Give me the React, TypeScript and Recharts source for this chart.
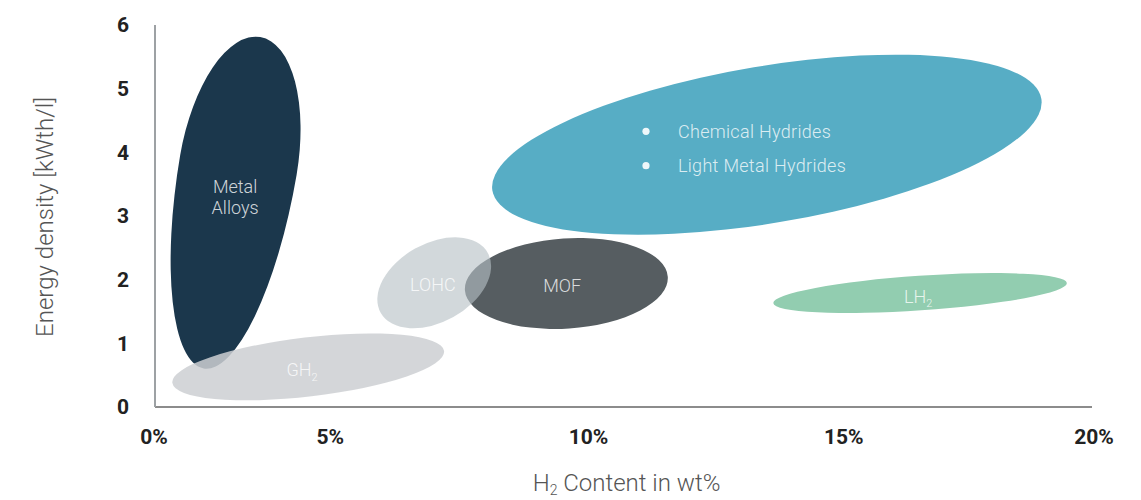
import React from 'react';
import { ComposedChart, XAxis, YAxis, Scatter, ReferenceArea } from 'recharts';

// Axis ticks
const xTicks = [0, 5, 10, 15, 20];
const yTicks = [0, 1, 2, 3, 4, 5, 6];

// Storage-technology regions (drawing order = stacking order)
const blobNames = ['Metal Alloys', 'GH2', 'MOF', 'LOHC', 'Chemical Hydrides', 'LH2'];
// centre of region (H2 wt%, kWh/l)
const blobCx = [1.78, 3.27, 8.78, 5.96, 13.06, 16.33];
const blobCy = [3.8, 0.63, 1.94, 1.95, 4.12, 1.79];
// half width (wt%) and reach above / below centre (kWh/l), before tilt
const blobHalfW = [1.26, 2.92, 2.17, 1.31, 5.94, 3.14];
const blobUp = [2.04, 0.465, 0.708, 0.616, 1.233, 0.272];
const blobDown = [3.24, 0.465, 0.708, 0.616, 1.233, 0.272];
const blobTilt = [9.7, -6.7, -3.8, -29.2, -9.5, -3.9];

// Labels
const labelLines = [['Metal', 'Alloys'], ['GH'], ['LOHC'], ['MOF'], ['LH'], ['Chemical Hydrides'], ['Light Metal Hydrides']];
const labelSubs = ['', '2', '', '', '2', '', ''];
const labelBullet = [false, false, false, false, false, true, true];
const labelX = [1.71, 3.14, 5.93, 8.69, 16.29, 10.48, 10.48];
const labelY = [3.3, 0.58, 1.92, 1.9, 1.74, 4.33, 3.79];

// styles
const blobFill: Record<string, string> = {
  'Metal Alloys': '#1b374c',
  GH2: '#cdcfd2',
  MOF: '#565d61',
  LOHC: '#b7c0c5',
  'Chemical Hydrides': '#57adc5',
  LH2: '#92cdb0',
};
const blobOpacity: Record<string, number> = {
  'Metal Alloys': 1,
  GH2: 0.85,
  MOF: 1,
  LOHC: 0.62,
  'Chemical Hydrides': 1,
  LH2: 1,
};
const xLabelNudge = [-1, -59, -35, -14, 2];

const FONT = 'Roboto, "Open Sans", sans-serif';

const labelData = labelX.map((x, i) => ({ x, y: labelY[i], i }));

function Blob(props: any) {
  const { x, y, width, height, up, down, angle, fill, opacity } = props;
  if (x == null || width == null) return null;
  const rx = Math.abs(width) / 2;
  const cx = x + width / 2;
  const h = Math.abs(height);
  const top = Math.min(y, y + height);
  const upPx = (h * up) / (up + down);
  const downPx = h - upPx;
  const cy = top + upPx;
  const d = `M ${cx - rx} ${cy} A ${rx} ${upPx} 0 0 1 ${cx + rx} ${cy} A ${rx} ${downPx} 0 0 1 ${cx - rx} ${cy} Z`;
  return <path d={d} fill={fill} fillOpacity={opacity} stroke="none" transform={`rotate(${angle} ${cx} ${cy})`} />;
}

function LabelShape(props: any) {
  const { cx, cy, payload } = props;
  if (cx == null || cy == null) return null;
  const i = payload.i;
  const lines = labelLines[i];
  const sub = labelSubs[i];
  const bullet = labelBullet[i];
  const fs = 18;
  const lh = 21;
  if (bullet) {
    return (
      <g>
        <circle cx={cx} cy={cy} r={3.6} fill="#ffffff" fillOpacity={0.9} />
        <text x={cx + 32} y={cy} dy="0.35em" textAnchor="start" fontFamily={FONT} fontWeight={300} fontSize={fs} fill="#ffffff" fillOpacity={0.8} letterSpacing={0.3}>
          {lines[0]}
        </text>
      </g>
    );
  }
  const n = lines.length;
  return (
    <text textAnchor="middle" fontFamily={FONT} fontWeight={300} fontSize={fs} fill="#ffffff" fillOpacity={0.8}>
      {lines.map((ln, k) => (
        <tspan key={k} x={cx} y={cy + (k - (n - 1) / 2) * lh} dy="0.35em">
          {ln}
        </tspan>
      ))}
      {sub ? (
        <tspan fontSize={11} dy="0.45em">
          {sub}
        </tspan>
      ) : null}
    </text>
  );
}

function XTick(props: any) {
  const { x, y, payload } = props;
  const idx = xTicks.indexOf(payload.value);
  const nudge = idx >= 0 ? xLabelNudge[idx] : 0;
  return (
    <text x={x + nudge} y={y} dy="0.71em" textAnchor="middle" fontFamily={FONT} fontWeight={700} fontSize={21} fill="#222">
      {payload.value}%
    </text>
  );
}

function XTitle(props: any) {
  const vb = props.viewBox || { x: 155, y: 407, width: 937, height: 93 };
  return (
    <text x={vb.x + vb.width / 2 + 3} y={491} textAnchor="middle" fontFamily={FONT} fontWeight={300} fontSize={24} fill="#555">
      <tspan>H</tspan>
      <tspan fontSize={14} dy="4">2</tspan>
      <tspan dy="-4"> Content in wt%</tspan>
    </text>
  );
}

function YTitle(props: any) {
  const vb = props.viewBox || { x: 0, y: 25, width: 155, height: 382 };
  const cy = vb.y + vb.height / 2 + 1;
  const x = 53;
  return (
    <text x={x} y={cy} transform={`rotate(-90 ${x} ${cy})`} textAnchor="middle" fontFamily={FONT} fontWeight={300} fontSize={24} fill="#555">
      Energy density [kWth/l]
    </text>
  );
}

export default function App() {
  return (
    <div style={{ position: 'absolute', left: 0, top: 0, width: 1141, height: 500, background: '#fff' }}>
      <ComposedChart width={1141} height={500} margin={{ top: 25, right: 49, bottom: 0, left: 0 }}>
        <XAxis
          type="number"
          dataKey="x"
          domain={[0, 20]}
          ticks={xTicks}
          interval={0}
          height={93}
          tickLine={false}
          tickSize={0}
          tickMargin={22}
          axisLine={{ stroke: '#666', strokeWidth: 1.5 }}
          tick={<XTick />}
          label={{ content: (p: any) => <XTitle {...p} /> }}
        />
        <YAxis
          type="number"
          dataKey="y"
          domain={[0, 6]}
          ticks={yTicks}
          interval={0}
          width={155}
          tickLine={false}
          tickSize={0}
          tickMargin={26}
          axisLine={{ stroke: '#9da1a4', strokeWidth: 2 }}
          tick={{ fontFamily: FONT, fontWeight: 700, fontSize: 21, fill: '#222' }}
          label={{ content: (p: any) => <YTitle {...p} /> }}
        />
        {blobNames.map((name, i) => (
          <ReferenceArea
            key={name}
            x1={blobCx[i] - blobHalfW[i]}
            x2={blobCx[i] + blobHalfW[i]}
            y1={blobCy[i] - blobDown[i]}
            y2={blobCy[i] + blobUp[i]}
            ifOverflow="visible"
            shape={(p: any) => (
              <Blob {...p} up={blobUp[i]} down={blobDown[i]} angle={blobTilt[i]} fill={blobFill[name]} opacity={blobOpacity[name]} />
            )}
          />
        ))}
        <Scatter data={labelData} dataKey="y" isAnimationActive={false} shape={(p: any) => <LabelShape {...p} />} />
      </ComposedChart>
    </div>
  );
}
